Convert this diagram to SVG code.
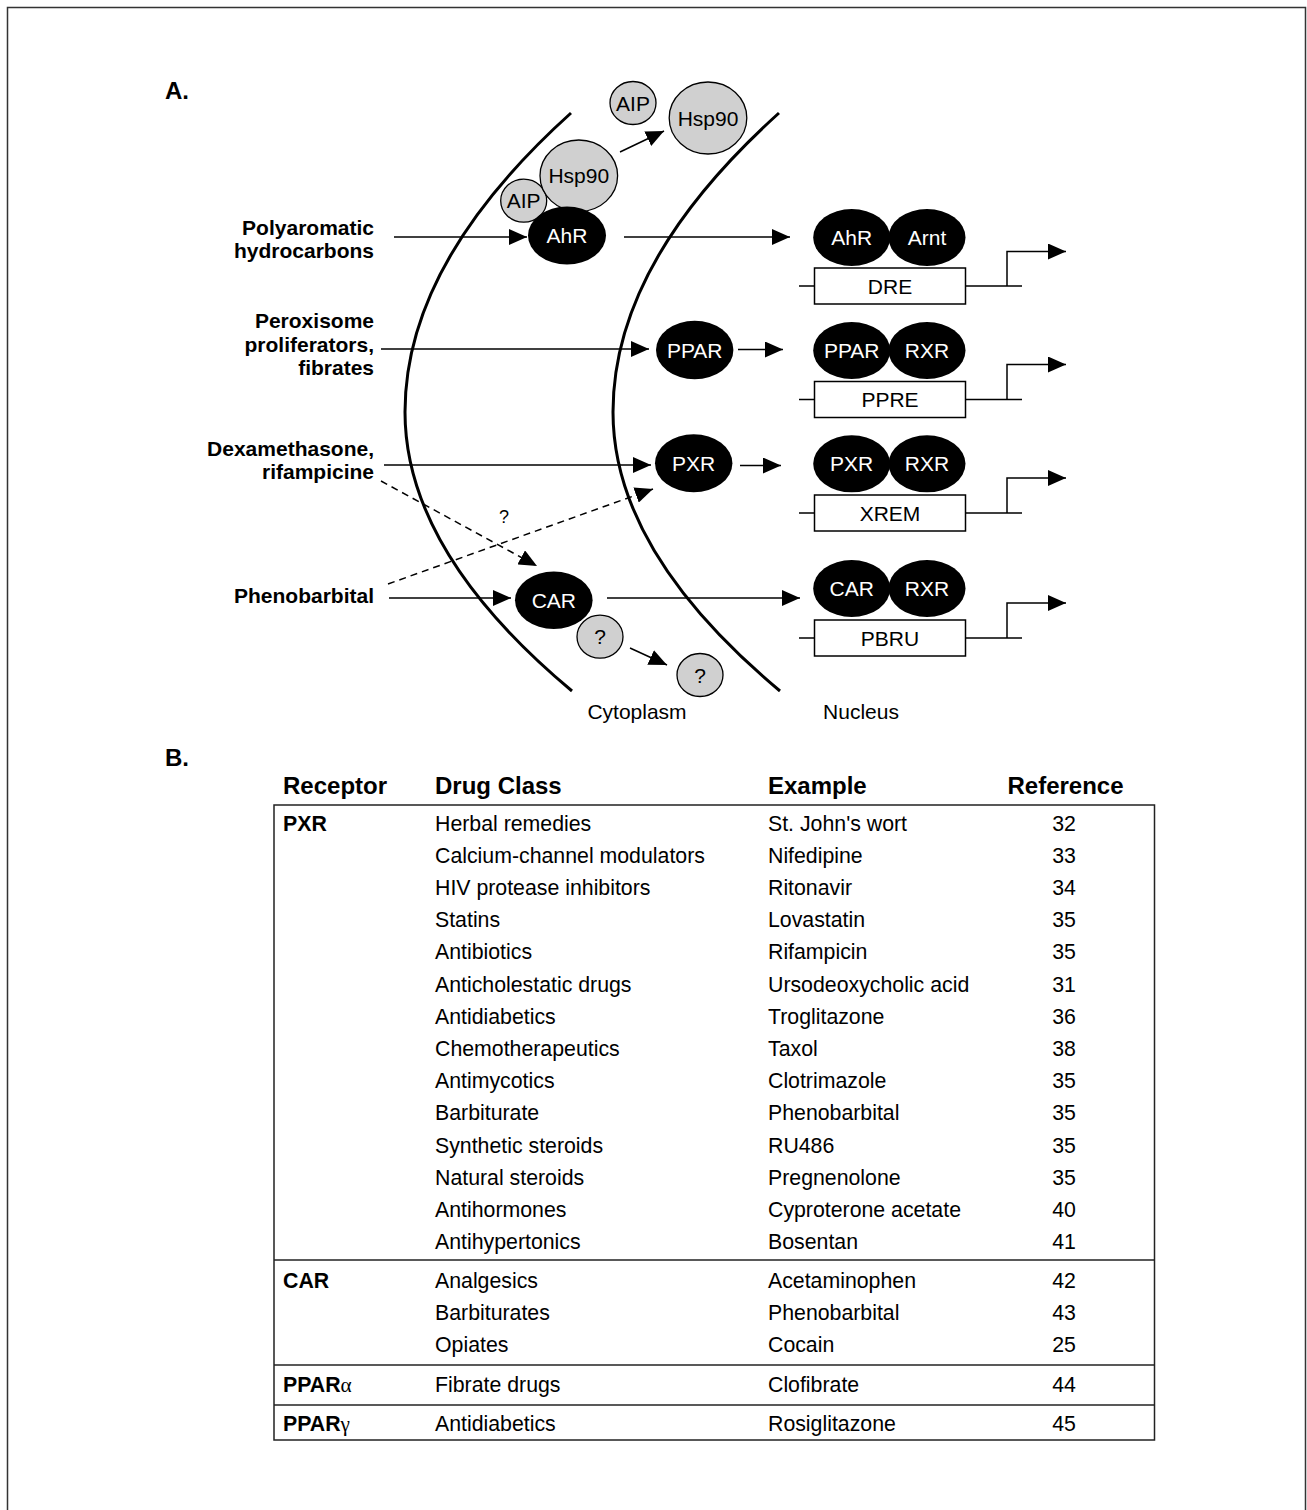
<svg xmlns="http://www.w3.org/2000/svg" width="1307" height="1510" viewBox="0 0 1307 1510">
<style>
text{font-family:"Liberation Sans",Arial,sans-serif}
.lbl{font-size:21px;font-weight:bold;text-anchor:end;fill:#000}
.wt{font-size:21px;fill:#fff;text-anchor:middle}
.bt{font-size:21px;fill:#000;text-anchor:middle}
.blk{fill:#000}
.gry{fill:#d0d0d0;stroke:#000;stroke-width:1.3}
.box{fill:#fff;stroke:#000;stroke-width:1.5}
.ln{fill:none;stroke:#000;stroke-width:1.5}
.dash{fill:none;stroke:#000;stroke-width:1.5;stroke-dasharray:7 5}
.mem{fill:none;stroke:#000;stroke-width:3}
.hd{font-size:24px;font-weight:bold}
.td{font-size:21.3px}
.tb{font-size:21.3px;font-weight:bold}
.num{font-size:21.3px;text-anchor:middle}
.tl{fill:none;stroke:#222;stroke-width:1.5}
</style>
<defs>
<marker id="ah" viewBox="0 0 18 16" markerWidth="18" markerHeight="16" refX="18" refY="8" orient="auto" markerUnits="userSpaceOnUse">
<path d="M0,0 L18,8 L0,16 z" fill="#000"/>
</marker>
</defs>
<rect x="0" y="0" width="1307" height="1510" fill="#fff"/>
<path d="M7.5,1515 V7.5 H1305.5 V1515" fill="none" stroke="#333" stroke-width="1.5"/>

<text x="165" y="99" class="hd">A.</text>
<text x="165" y="766" class="hd">B.</text>

<g id="membranes">
<path class="mem" d="M571,113 Q405,262.5 405,412 Q405,551.5 572,691"/>
<path class="mem" d="M779,113 Q613,262.5 613,412 Q613,551.5 780,691"/>
</g>

<g id="labels">
<text class="lbl" x="374" y="235">Polyaromatic</text>
<text class="lbl" x="374" y="258">hydrocarbons</text>
<text class="lbl" x="374" y="328">Peroxisome</text>
<text class="lbl" x="374" y="351.5">proliferators,</text>
<text class="lbl" x="374" y="375">fibrates</text>
<text class="lbl" x="374" y="456">Dexamethasone,</text>
<text class="lbl" x="374" y="479">rifampicine</text>
<text class="lbl" x="374" y="603">Phenobarbital</text>
<text class="bt" x="637" y="719">Cytoplasm</text>
<text class="bt" x="861" y="719">Nucleus</text>
<text class="bt" x="504" y="523" style="font-size:18px">?</text>
</g>

<g id="connectors">
<line class="ln" x1="394" y1="237" x2="527" y2="237" marker-end="url(#ah)"/>
<line class="ln" x1="624" y1="237" x2="790" y2="237" marker-end="url(#ah)"/>
<line class="ln" x1="620" y1="152" x2="664" y2="131" marker-end="url(#ah)"/>
<line class="ln" x1="381" y1="349" x2="649" y2="349" marker-end="url(#ah)"/>
<line class="ln" x1="738" y1="349.5" x2="783" y2="349.5" marker-end="url(#ah)"/>
<line class="ln" x1="384" y1="465" x2="651" y2="465" marker-end="url(#ah)"/>
<line class="ln" x1="740" y1="465.5" x2="781" y2="465.5" marker-end="url(#ah)"/>
<line class="dash" x1="381" y1="481" x2="537" y2="566" marker-end="url(#ah)"/>
<line class="dash" x1="388" y1="584" x2="653" y2="489" marker-end="url(#ah)"/>
<line class="ln" x1="389" y1="598" x2="511" y2="598" marker-end="url(#ah)"/>
<line class="ln" x1="607" y1="598" x2="800" y2="598" marker-end="url(#ah)"/>
<line class="ln" x1="630" y1="648" x2="667" y2="665" marker-end="url(#ah)"/>
</g>

<g id="node-AIP-bound"><ellipse class="gry" cx="523.7" cy="200.7" rx="23" ry="21.5"/><text class="bt" x="523.7" y="208.3">AIP</text></g>
<g id="node-Hsp90-bound"><ellipse class="gry" cx="578.8" cy="175.8" rx="38.8" ry="35.8"/><text class="bt" x="578.8" y="183.4">Hsp90</text></g>
<g id="node-AhR-cyto"><ellipse class="blk" cx="567" cy="235.5" rx="39" ry="29"/><text class="wt" x="567" y="243">AhR</text></g>
<g id="node-AIP-free"><ellipse class="gry" cx="633" cy="103" rx="23" ry="21.5"/><text class="bt" x="633" y="110.6">AIP</text></g>
<g id="node-Hsp90-free"><ellipse class="gry" cx="708" cy="118" rx="38.8" ry="36"/><text class="bt" x="708" y="125.6">Hsp90</text></g>
<g id="node-PPAR-cyto"><ellipse class="blk" cx="694.7" cy="350" rx="38.7" ry="29.2"/><text class="wt" x="694.7" y="357.6">PPAR</text></g>
<g id="node-PXR-cyto"><ellipse class="blk" cx="693.7" cy="463.3" rx="38.7" ry="29"/><text class="wt" x="693.7" y="470.9">PXR</text></g>
<g id="node-CAR-cyto"><ellipse class="blk" cx="553.8" cy="600.3" rx="38.8" ry="28.7"/><text class="wt" x="553.8" y="607.9">CAR</text></g>
<g id="node-q1"><ellipse class="gry" cx="600" cy="636.7" rx="23" ry="21.5"/><text class="bt" x="600" y="644.3">?</text></g>
<g id="node-q2"><ellipse class="gry" cx="700" cy="675" rx="23" ry="21.5"/><text class="bt" x="700" y="682.6">?</text></g>

<g id="node-DRE">
<ellipse class="blk" cx="851.7" cy="237.5" rx="38.5" ry="28.5"/><ellipse class="blk" cx="927" cy="237.5" rx="38.5" ry="28.5"/>
<text class="wt" x="851.7" y="245.1">AhR</text><text class="wt" x="927" y="245.1">Arnt</text>
<path class="ln" d="M799,286 H815 M966,286 H1022 M1007,286 V251.5 H1066" marker-end="url(#ah)"/>
<rect class="box" x="814.5" y="268" width="151" height="36"/>
<text class="bt" x="890" y="293.6">DRE</text>
</g>
<g id="node-PPRE">
<ellipse class="blk" cx="851.7" cy="350.5" rx="38.5" ry="28.5"/><ellipse class="blk" cx="927" cy="350.5" rx="38.5" ry="28.5"/>
<text class="wt" x="851.7" y="358.1">PPAR</text><text class="wt" x="927" y="358.1">RXR</text>
<path class="ln" d="M799,399.5 H815 M966,399.5 H1022 M1007,399.5 V364.5 H1066" marker-end="url(#ah)"/>
<rect class="box" x="814.5" y="381.5" width="151" height="36"/>
<text class="bt" x="890" y="407.1">PPRE</text>
</g>
<g id="node-XREM">
<ellipse class="blk" cx="851.7" cy="463.8" rx="38.5" ry="28.5"/><ellipse class="blk" cx="927" cy="463.8" rx="38.5" ry="28.5"/>
<text class="wt" x="851.7" y="471.4">PXR</text><text class="wt" x="927" y="471.4">RXR</text>
<path class="ln" d="M799,513 H815 M966,513 H1022 M1007,513 V478 H1066" marker-end="url(#ah)"/>
<rect class="box" x="814.5" y="495" width="151" height="36"/>
<text class="bt" x="890" y="520.6">XREM</text>
</g>
<g id="node-PBRU">
<ellipse class="blk" cx="851.7" cy="588.5" rx="38.5" ry="28.5"/><ellipse class="blk" cx="927" cy="588.5" rx="38.5" ry="28.5"/>
<text class="wt" x="851.7" y="596.1">CAR</text><text class="wt" x="927" y="596.1">RXR</text>
<path class="ln" d="M799,638 H815 M966,638 H1022 M1007,638 V603 H1066" marker-end="url(#ah)"/>
<rect class="box" x="814.5" y="620" width="151" height="36"/>
<text class="bt" x="890" y="645.6">PBRU</text>
</g>

<g id="table">
<text class="hd" x="283" y="793.5">Receptor</text>
<text class="hd" x="435" y="793.5">Drug Class</text>
<text class="hd" x="768" y="793.5">Example</text>
<text class="hd" x="1065.5" y="793.5" text-anchor="middle">Reference</text>
<rect class="tl" x="274" y="805" width="880.5" height="635"/>
<line class="tl" x1="274" y1="1260" x2="1154.5" y2="1260"/>
<line class="tl" x1="274" y1="1365" x2="1154.5" y2="1365"/>
<line class="tl" x1="274" y1="1405" x2="1154.5" y2="1405"/>

<text class="tb" x="283" y="830.5">PXR</text>
<g class="td">
<text x="435" y="830.5">Herbal remedies</text><text x="768" y="830.5">St. John's wort</text><text class="num" x="1064" y="830.5">32</text>
<text x="435" y="862.7">Calcium-channel modulators</text><text x="768" y="862.7">Nifedipine</text><text class="num" x="1064" y="862.7">33</text>
<text x="435" y="894.9">HIV protease inhibitors</text><text x="768" y="894.9">Ritonavir</text><text class="num" x="1064" y="894.9">34</text>
<text x="435" y="927.1">Statins</text><text x="768" y="927.1">Lovastatin</text><text class="num" x="1064" y="927.1">35</text>
<text x="435" y="959.3">Antibiotics</text><text x="768" y="959.3">Rifampicin</text><text class="num" x="1064" y="959.3">35</text>
<text x="435" y="991.5">Anticholestatic drugs</text><text x="768" y="991.5">Ursodeoxycholic acid</text><text class="num" x="1064" y="991.5">31</text>
<text x="435" y="1023.7">Antidiabetics</text><text x="768" y="1023.7">Troglitazone</text><text class="num" x="1064" y="1023.7">36</text>
<text x="435" y="1055.9">Chemotherapeutics</text><text x="768" y="1055.9">Taxol</text><text class="num" x="1064" y="1055.9">38</text>
<text x="435" y="1088.1">Antimycotics</text><text x="768" y="1088.1">Clotrimazole</text><text class="num" x="1064" y="1088.1">35</text>
<text x="435" y="1120.3">Barbiturate</text><text x="768" y="1120.3">Phenobarbital</text><text class="num" x="1064" y="1120.3">35</text>
<text x="435" y="1152.5">Synthetic steroids</text><text x="768" y="1152.5">RU486</text><text class="num" x="1064" y="1152.5">35</text>
<text x="435" y="1184.7">Natural steroids</text><text x="768" y="1184.7">Pregnenolone</text><text class="num" x="1064" y="1184.7">35</text>
<text x="435" y="1216.9">Antihormones</text><text x="768" y="1216.9">Cyproterone acetate</text><text class="num" x="1064" y="1216.9">40</text>
<text x="435" y="1249.1">Antihypertonics</text><text x="768" y="1249.1">Bosentan</text><text class="num" x="1064" y="1249.1">41</text>
</g>
<text class="tb" x="283" y="1287.5">CAR</text>
<g class="td">
<text x="435" y="1287.5">Analgesics</text><text x="768" y="1287.5">Acetaminophen</text><text class="num" x="1064" y="1287.5">42</text>
<text x="435" y="1319.7">Barbiturates</text><text x="768" y="1319.7">Phenobarbital</text><text class="num" x="1064" y="1319.7">43</text>
<text x="435" y="1351.9">Opiates</text><text x="768" y="1351.9">Cocain</text><text class="num" x="1064" y="1351.9">25</text>
</g>
<text class="tb" x="283" y="1392">PPAR<tspan style="font-family:'Liberation Serif',serif;font-weight:normal">α</tspan></text>
<g class="td">
<text x="435" y="1392">Fibrate drugs</text><text x="768" y="1392">Clofibrate</text><text class="num" x="1064" y="1392">44</text>
</g>
<text class="tb" x="283" y="1431">PPAR<tspan style="font-family:'Liberation Serif',serif;font-weight:normal">γ</tspan></text>
<g class="td">
<text x="435" y="1431">Antidiabetics</text><text x="768" y="1431">Rosiglitazone</text><text class="num" x="1064" y="1431">45</text>
</g>
</g>
</svg>
